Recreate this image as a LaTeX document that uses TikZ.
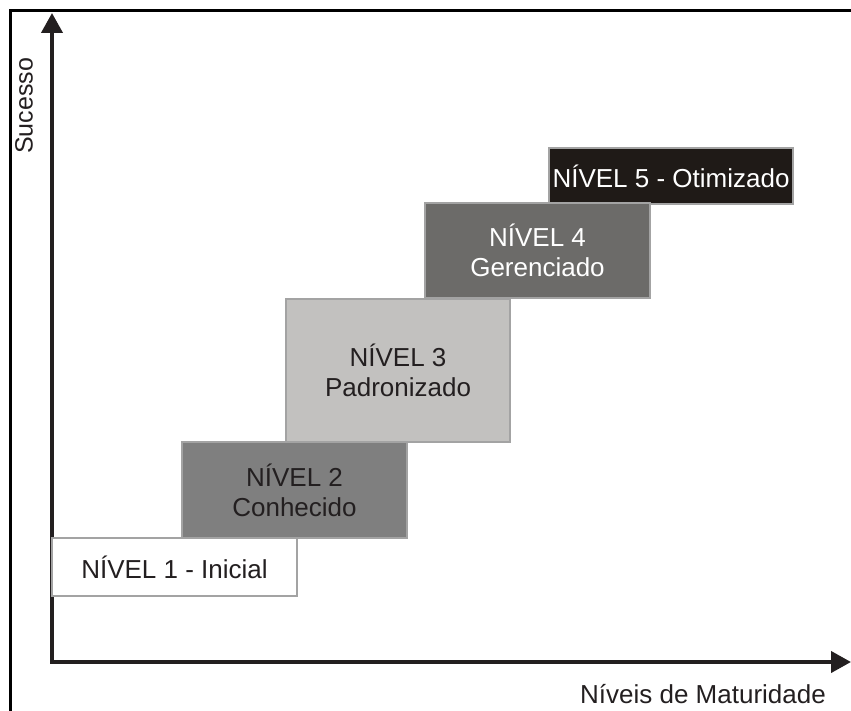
\documentclass[tikz,border=0pt]{standalone}
\usepackage{fontspec}
\setmainfont{Liberation Sans}
\usetikzlibrary{arrows.meta}
\definecolor{ink}{HTML}{231F20}
\definecolor{boxline}{HTML}{A3A3A3}
\definecolor{fillA}{HTML}{FFFFFF}
\definecolor{fillB}{HTML}{7F7F7F}
\definecolor{fillC}{HTML}{C2C1BF}
\definecolor{fillD}{HTML}{6C6B69}
\definecolor{fillE}{HTML}{1F1A17}
\begin{document}
\begin{tikzpicture}[x=1pt,y=-1pt,
  levelbox/.style={draw=boxline, line width=1.5pt, inner sep=0pt, align=center,
    font=\fontsize{26}{30}\selectfont, text=ink},
  axisline/.style={draw=ink, line width=4pt,
    {Triangle[length=20pt,width=21pt]}-{Triangle[length=20pt,width=21pt]}},
  labeltext/.style={font=\fontsize{25}{30}\selectfont, text=ink, inner sep=0pt}]
\useasboundingbox (0,0) rectangle (851,711);
\draw[line width=3pt, black] (10,712) -- (10,10.5) -- (852,10.5);

\coordinate (origin) at (52,662);
\coordinate (ytip) at (52,13);
\coordinate (xtip) at (851,662);
\draw[axisline] (ytip) -- (origin) -- (xtip);

\node[levelbox, fill=fillB, minimum width=225pt, minimum height=96pt] (n2) at (294.5,490) {NÍVEL 2\\Conhecido};
\node[levelbox, fill=fillA, minimum width=245pt, minimum height=58pt] (n1) at (174.5,567) {NÍVEL 1 - Inicial};
\node[levelbox, fill=fillC, minimum width=224pt, minimum height=143pt] (n3) at (398,370.5) {NÍVEL 3\\Padronizado};
\node[levelbox, fill=fillE, text=white, minimum width=244pt, minimum height=56pt] (n5) at (671,176) {NÍVEL 5 - Otimizado};
\node[levelbox, fill=fillD, text=white, minimum width=225pt, minimum height=95pt] (n4) at (537.5,250.5) {NÍVEL 4\\Gerenciado};

\node[labeltext, rotate=90] (ylab) at (24,106) {Sucesso};
\node[labeltext, font=\fontsize{26}{30}\selectfont, anchor=base] (xlab) at (703,703) {Níveis de Maturidade};
\end{tikzpicture}
\end{document}
